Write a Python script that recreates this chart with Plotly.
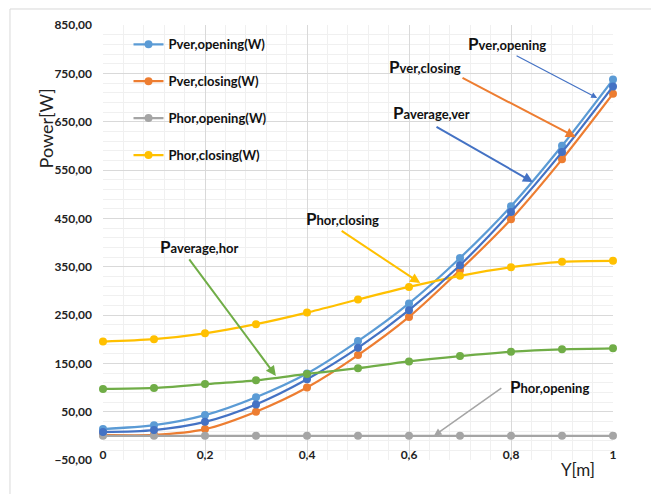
import plotly.graph_objects as go

# ---- data ----
y_pos = [0, 0.1, 0.2, 0.3, 0.4, 0.5, 0.6, 0.7, 0.8, 0.9, 1.0]
pver_opening = [14, 22, 43, 80, 129, 196, 274, 368, 475, 600, 737]
pver_closing = [2, 2, 14, 50, 100, 167, 246, 343, 448, 572, 708]
phor_opening = [0, 0, 0, 0, 0, 0, 0, 0, 0, 0, 0]
phor_closing = [195, 200, 212, 231, 255, 282, 308, 331, 349, 360, 362]
paverage_ver = [8, 12, 29, 65, 117, 182, 260, 353, 463, 587, 723]
paverage_hor = [97, 99, 107, 115, 128, 140, 154, 165, 174, 179, 181]

x_tickvals = [0, 0.2, 0.4, 0.6, 0.8, 1.0]
x_ticktext = ["0", "0,2", "0,4", "0,6", "0,8", "1"]

FONT = "Lato"
C_LBLUE = "#5B9BD5"
C_DBLUE = "#4472C4"
C_ORANGE = "#ED7D31"
C_GRAY = "#A5A5A5"
C_YELLOW = "#FFC000"
C_GREEN = "#70AD47"

fig = go.Figure()


def add(ys, name, color, show, group):
    fig.add_trace(go.Scatter(
        x=y_pos, y=ys, name=name, mode="lines+markers",
        line=dict(color=color, width=2.25, shape="spline", smoothing=0.8),
        marker=dict(color=color, size=8, symbol="circle"),
        showlegend=show, legendgroup=group, cliponaxis=False))


add(pver_opening, "Pver,opening(W)", C_LBLUE, True, "a")
add(pver_closing, "Pver,closing(W)", C_ORANGE, True, "b")
add(phor_opening, "Phor,opening(W)", C_GRAY, True, "c")
add(phor_closing, "Phor,closing(W)", C_YELLOW, True, "d")
add(paverage_ver, "Paverage,ver", C_DBLUE, False, "e")
add(paverage_hor, "Paverage,hor", C_GREEN, False, "f")

# ---- annotations: labels and arrows ----
def lbl(name):
    return "<b><span style='font-size:17px'>P</span>" + name + "</b>"

labels = [
    ("ver,opening", 0.792, 811),
    ("ver,closing", 0.631, 765),
    ("average,ver", 0.645, 668),
    ("hor,closing", 0.469, 449),
    ("average,hor", 0.188, 391),
    ("hor,opening", 0.875, 103),
]
for txt, xx, yy in labels:
    fig.add_annotation(x=xx, y=yy, xref="x", yref="y", text=lbl(txt),
                       showarrow=False, font=dict(family=FONT, size=13, color="#111"))

arrows = [
    (0.969, 699, 0.808, 788, C_DBLUE, 1.2),
    (0.927, 618, 0.702, 742, C_ORANGE, 2),
    (0.843, 525, 0.651, 641, C_DBLUE, 2),
    (0.622, 316, 0.465, 426, C_YELLOW, 2),
    (0.339, 124, 0.167, 368, C_GREEN, 2),
    (0.649, 0, 0.784, 101, C_GRAY, 1.5),
]
for hx, hy, tx, ty, col, w in arrows:
    fig.add_annotation(x=hx, y=hy, ax=tx, ay=ty, xref="x", yref="y",
                       axref="x", ayref="y", text="", showarrow=True,
                       arrowhead=2, arrowsize=1, arrowwidth=w, arrowcolor=col)

# axis titles
fig.add_annotation(x=-0.138, y=0.858, xref="paper", yref="paper", text="Power[W]",
                   textangle=-90, showarrow=False,
                   font=dict(family=FONT, size=18, color="#222"))
fig.add_annotation(x=0.969, y=-0.05, xref="paper", yref="paper", text="Y[m]",
                   showarrow=False, font=dict(family=FONT, size=17, color="#222"))

# chart frame
fig.add_shape(type="rect", xref="paper", yref="paper",
              x0=-0.1824, x1=1.2, y0=-0.2, y1=1.0368,
              line=dict(color="#D9D9D9", width=1), layer="below")

fig.update_layout(
    width=651, height=494,
    margin=dict(l=103, r=38, t=25, b=34),
    paper_bgcolor="white", plot_bgcolor="white",
    separators=",.",
    font=dict(family=FONT, size=12, color="#222"),
    showlegend=True,
    legend=dict(x=0.05, y=0.99, xanchor="left", yanchor="top",
                bgcolor="rgba(0,0,0,0)", traceorder="grouped",
                tracegroupgap=17,
                font=dict(family=FONT, size=13, color="#111", weight="bold")),
    xaxis=dict(range=[0, 1], tickvals=x_tickvals, ticktext=x_ticktext,
               showgrid=True, gridcolor="#D9D9D9", gridwidth=1,
               zeroline=False, showline=False, ticks="",
               ticklabelstandoff=-14,
               tickfont=dict(family=FONT, size=12, color="#222", weight="bold"),
               minor=dict(dtick=0.04, tick0=0, showgrid=True, gridcolor="#F0F0F0")),
    yaxis=dict(range=[-50, 850], dtick=100, tick0=-50, tickformat=".2f",
               showgrid=True, gridcolor="#D9D9D9", gridwidth=1,
               zeroline=False, showline=False, ticks="",
               ticklabelstandoff=10,
               tickfont=dict(family=FONT, size=12, color="#222", weight="bold"),
               minor=dict(dtick=20, tick0=-50, showgrid=True, gridcolor="#F0F0F0")),
)

fig.write_html("out.html")
